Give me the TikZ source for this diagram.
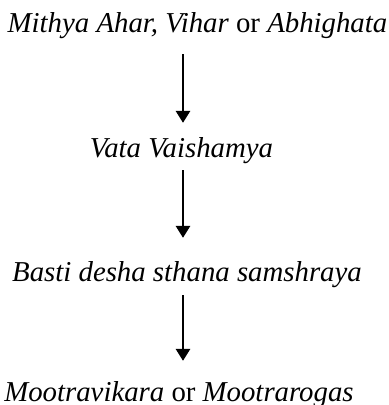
\documentclass[tikz,border=0pt]{standalone}
\usepackage{fontspec}
\setmainfont{Liberation Serif}[ItalicFont={Liberation Serif Italic}, UprightFont={Liberation Serif}]
\usetikzlibrary{arrows.meta}
\begin{document}
\begin{tikzpicture}[x=0.75pt, y=-0.75pt,
    stage/.style={anchor=base, inner sep=0pt, font=\fontsize{21.6}{26}\selectfont\itshape},
    flow/.style={-{Triangle[length=9pt,width=11pt]}, line width=0.9pt}
]
\useasboundingbox (0,0) rectangle (389,405);
\coordinate (axis) at (183,0);

% Causes
\node[stage] (cause) at (197.5,32) {Mithya Ahar, Vihar \textup{or} Abhighata};

% Dosha
\node[stage] (vata) at (181.5,157) {Vata Vaishamya};

% Sthana
\node[stage] (basti) at (187,281) {Basti desha sthana samshraya};

% Disease
\node[stage] (roga) at (179,401) {Mootravikara \textup{or} Mootrarogas};

% Connections
\draw[flow, shorten <=12pt, shorten >=10.5pt] (cause.south -| axis) -- (vata.north -| axis);
\draw[flow, shorten <=5.25pt, shorten >=17.25pt] (vata.south -| axis) -- (basti.north -| axis);
\draw[flow, shorten <=6pt, shorten >=15pt] (basti.south -| axis) -- (roga.north -| axis);
\end{tikzpicture}
\end{document}
